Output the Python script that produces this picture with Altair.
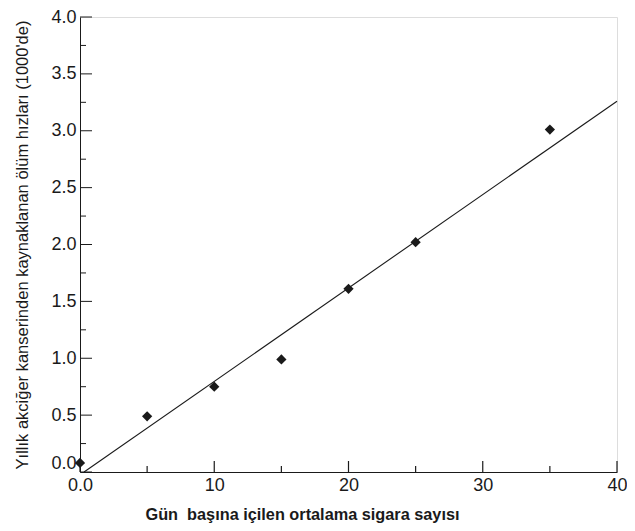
import altair as alt
import pandas as pd

# Data
cigarettes = [0, 5, 10, 15, 20, 25, 35]
death_rate = [0.08, 0.49, 0.75, 0.99, 1.61, 2.02, 3.01]

fit_x = [0.3, 40]
fit_y = [0.0, 3.26]

y_major = [0, 0.5, 1.0, 1.5, 2.0, 2.5, 3.0, 3.5, 4.0]
y_minor = [0.25, 0.75, 1.25, 1.75, 2.25, 2.75, 3.25, 3.75]
x_major = [0, 10, 20, 30, 40]
x_minor = [5, 15, 25, 35]

x_title = "Gün\u00a0 başına içilen ortalama sigara sayısı"
y_title = "Yıllık akciğer kanserinden kaynaklanan ölüm hızları (1000'de)"

W, H = 537, 455
FONT = "Liberation Sans"
INK = "#1a1a1a"

pts = pd.DataFrame({"x": cigarettes, "y": death_rate})
fit = pd.DataFrame({"x": fit_x, "y": fit_y})

xs = alt.Scale(domain=[0, 40], nice=False, zero=False)
ys = alt.Scale(domain=[0, 4], nice=False, zero=False)

x_axis = alt.Axis(
    values=x_major,
    ticks=False,
    labelExpr="datum.value == 0 ? '0.0' : datum.label",
    labelFont=FONT, labelFontSize=18, labelColor=INK, labelPadding=4,
    title=x_title, titleFont=FONT, titleFontSize=16.3, titleFontWeight="bold",
    titleColor=INK, titlePadding=12, titleX=222, titleAlign="center",
    domainColor=INK, domainWidth=1, grid=False, labelFlush=False,
)
y_axis = alt.Axis(
    values=y_major,
    format=".1f",
    ticks=False,
    labelBaseline=alt.condition("datum.value == 0", alt.value("bottom"), alt.value("middle")),
    labelFont=FONT, labelFontSize=18, labelColor=INK, labelPadding=4,
    title=y_title, titleFont=FONT, titleFontSize=16.5, titleFontWeight="normal",
    titleColor=INK, titlePadding=20,
    domainColor=INK, domainWidth=1, grid=False, labelFlush=False,
)

points = alt.Chart(pts).mark_point(
    shape="diamond", filled=True, size=105, color=INK, opacity=1
).encode(
    x=alt.X("x:Q", scale=xs, axis=x_axis),
    y=alt.Y("y:Q", scale=ys, axis=y_axis),
)

line = alt.Chart(fit).mark_line(color=INK, strokeWidth=1.1).encode(
    x=alt.X("x:Q", scale=xs),
    y=alt.Y("y:Q", scale=ys),
)

def yticks(vals, length):
    return alt.Chart(pd.DataFrame({"v": vals})).mark_rule(color=INK, strokeWidth=1).encode(
        y=alt.Y("v:Q", scale=ys),
        x=alt.value(0),
        x2=alt.value(length),
    )

def xticks(vals, length):
    return alt.Chart(pd.DataFrame({"v": vals})).mark_rule(color=INK, strokeWidth=1.2).encode(
        x=alt.X("v:Q", scale=xs),
        y=alt.value(H),
        y2=alt.value(H - length),
    )

chart = alt.layer(
    yticks(y_major, 12), yticks(y_minor, 6),
    xticks(x_major, 11), xticks(x_minor, 6),
    line, points,
).properties(
    width=W, height=H,
    autosize=alt.AutoSizeParams(type="none"),
    padding={"left": 72, "top": 9, "right": 10, "bottom": 52},
).configure_view(stroke=None).configure(background="white")

chart.save("out.html", embed_options={"renderer": "svg", "actions": False})
